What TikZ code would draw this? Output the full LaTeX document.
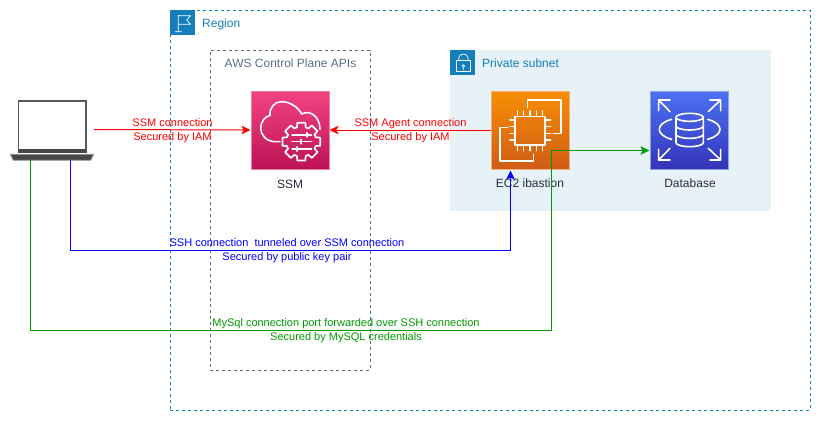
\documentclass[tikz,border=0pt]{standalone}
\usepackage{fontspec}
\setmainfont{Liberation Sans}
\usetikzlibrary{arrows.meta,calc}
\definecolor{regionblue}{HTML}{147EBA}
\definecolor{ctrlgray}{HTML}{5A6C86}
\definecolor{subnetfill}{HTML}{E6F2F8}
\definecolor{inktext}{HTML}{232F3E}
\definecolor{linkred}{HTML}{FF0000}
\definecolor{linkblue}{HTML}{0000FF}
\definecolor{linkgreen}{HTML}{009900}
\definecolor{ssmtop}{HTML}{F34482}
\definecolor{ssmbot}{HTML}{BC1356}
\definecolor{ssmedge}{HTML}{E87FA8}
\definecolor{ectop}{HTML}{F78E04}
\definecolor{ecbot}{HTML}{D05C17}
\definecolor{ecedge}{HTML}{F0B27A}
\definecolor{dbtop}{HTML}{4D72F3}
\definecolor{dbbot}{HTML}{3334B9}
\definecolor{dbedge}{HTML}{8FA4E8}
\tikzset{
  flow/.style={line width=1pt,-{Stealth[length=9pt,width=8.5pt,inset=2pt]}},
  flowlabel/.style={font=\fontsize{11}{14}\selectfont,align=center,inner sep=0pt},
  icon/.style={minimum size=78pt,inner sep=0pt,line width=1pt,anchor=north west},
  glyph/.style={draw=white,line width=1.6pt,line join=round,line cap=round},
  thinglyph/.style={draw=white,line width=.7pt,line join=round},
  badge/.style={minimum size=25pt,inner sep=0pt,fill=regionblue,anchor=north west},
  caption/.style={font=\fontsize{12}{14}\selectfont,text=inktext,inner sep=0pt},
  grouptitle/.style={font=\fontsize{12}{14}\selectfont,inner sep=0pt,anchor=west},
  groupline/.style={dash pattern=on 3pt off 3pt,line width=1pt,inner sep=0pt,anchor=north west},
}
\begin{document}
\begin{tikzpicture}[x=1pt,y=-1pt]
\useasboundingbox (1.5,1.5) rectangle (822.5,422.5);
% groups
\node[draw=regionblue,groupline,minimum width=640pt,minimum height=400pt] (region) at (171,11) {};
\node[fill=subnetfill,minimum width=321pt,minimum height=161pt,inner sep=0pt,anchor=north west] (subnet) at (451.5,51.5) {};
\node[draw=ctrlgray,groupline,minimum width=160pt,minimum height=320pt] (ctrl) at (211,51) {};
\node[badge] (flagbox) at (171.5,11.5) {};
\node[badge] (lockbox) at (451.5,51.5) {};
\node[grouptitle,text=regionblue] (regiontitle) at (203.5,26) {Region};
\node[grouptitle,text=regionblue] (subnettitle) at (483.5,65) {Private subnet};
\node[grouptitle,text=ctrlgray,anchor=center] (ctrltitle) at (292,65) {AWS Control Plane APIs};
% flag glyph
\begin{scope}[shift={(161.5,1.5)},x=.3333pt,y=-.3333pt]
\draw[thinglyph] (45,95)--(65,95) (55,95)--(55,45) (55,47)--(92,47)--(80,60)--(92,73)--(55,73);
\end{scope}
% lock glyph
\begin{scope}[shift={(441.5,41.5)},x=.3333pt,y=-.3333pt]
\draw[thinglyph] (50,62) rectangle (90,95);
\draw[thinglyph] (56,62)--(56,54) arc[start angle=180,end angle=0,x radius=14,y radius=-12]--(84,62);
\draw[thinglyph] (70,78) circle[radius=4] (70,82)--(70,90);
\end{scope}
% laptop
\begin{scope}[shift={(1.5,91.5)},x=.3333pt,y=-.3333pt]
\path[fill=white] (53,31) rectangle (260,190);
\draw[draw=black!65,line width=1.3pt] (55,33) rectangle (258,188);
\fill[black!72] (55,178) rectangle (258,190);
\draw[fill=black!72,draw=black!40,line width=.8pt] (31,193)--(281,193)--(272,211)--(40,211)--cycle;
\end{scope}
\coordinate (lapright) at (95.5,131);
\coordinate (lapblue) at (72,161.5);
\coordinate (lapgreen) at (32,161.5);
% services
\node[icon,draw=ssmedge,top color=ssmtop,bottom color=ssmbot] (ssm) at (252,92) {};
\node[icon,draw=ecedge,top color=ectop,bottom color=ecbot] (ec2) at (492,92) {};
\node[icon,draw=dbedge,top color=dbtop,bottom color=dbbot] (db) at (651,92) {};
\node[caption] (ssmcap) at (291.5,185.5) {SSM};
\node[caption] (ec2cap) at (531.5,185) {EC2 ibastion};
\node[caption] (dbcap) at (691.5,185) {Database};
% SSM glyph
\begin{scope}[shift={(161.5,1.5)},x=.3333pt,y=-.3333pt]
\draw[glyph] (360,425) -- (345,425) .. controls (320,425) and (302,405) .. (302,385)
  .. controls (302,365) and (315,350) .. (330,346)
  .. controls (328,322) and (345,305) .. (365,305)
  .. controls (390,305) and (415,322) .. (425,342)
  .. controls (450,328) and (480,350) .. (480,388);
\begin{scope}[shift={(424,425)}]
\draw[glyph,line width=1.7pt] (-12:58) foreach \a in {0,45,...,315}{ -- ({\a-12}:58) -- ({\a+12}:58) -- ({\a+17}:45) -- ({\a+28}:45) -- ({\a+33}:58)} -- cycle;
\end{scope}
\draw[glyph,line width=1.4pt] (396,405)--(455,405) (396,425)--(455,425) (396,447)--(455,447);
\draw[glyph,line width=2pt] (440,399)--(440,411) (424,419)--(424,431) (410,441)--(410,453);
\end{scope}
% EC2 glyph
\begin{scope}[shift={(481.5,86.5)},x=.3333pt,y=-.3333pt]
\draw[glyph] (143,68)--(143,45)--(243,45)--(243,145)--(220,145);
\draw[glyph] (83,128)--(60,128)--(60,228)--(160,228)--(160,208);
\draw[glyph] (105,95) rectangle (195,180);
\foreach \p in {112,130,150,170,188}{\draw[glyph] (\p,78)--(\p,95) (\p,180)--(\p,197);}
\foreach \p in {105,125,145,165}{\draw[glyph] (90,\p)--(105,\p) (195,\p)--(212,\p);}
\end{scope}
% Database glyph
\begin{scope}[shift={(441.5,41.5)},x=.3333pt,y=-.3333pt]
\draw[glyph] (690,215)--(656,180) (656,212)--(656,180)--(690,180);
\draw[glyph] (805,215)--(842,180) (810,180)--(842,180)--(842,212);
\draw[glyph] (690,325)--(656,360) (656,328)--(656,360)--(690,360);
\draw[glyph] (805,325)--(842,360) (810,360)--(842,360)--(842,328);
\draw[glyph] (695,238) .. controls (670,245) and (658,256) .. (658,268) .. controls (658,280) and (670,291) .. (695,298);
\draw[glyph] (803,238) .. controls (828,245) and (840,256) .. (840,268) .. controls (840,280) and (828,291) .. (803,298);
\draw[glyph] (749,232) circle[x radius=41,y radius=12];
\draw[glyph] (708,232)--(708,308) arc[start angle=180,end angle=360,x radius=41,y radius=-12]--(790,232);
\draw[glyph] (708,258) arc[start angle=180,end angle=360,x radius=41,y radius=-12];
\draw[glyph] (708,283) arc[start angle=180,end angle=360,x radius=41,y radius=-12];
\end{scope}
% connectors
\draw[flow,linkred] (lapright) -- (ssm.west);
\node[flowlabel,text=linkred] (lab1) at (174,132.5) {SSM connection\\Secured by IAM};
\draw[flow,linkred] (ec2.west) -- (ssm.east);
\node[flowlabel,text=linkred] (lab2) at (412,132.5) {SSM Agent connection\\Secured by IAM};
\draw[flow,linkblue] (lapblue) |- ($(ec2.south west)+(20,81)$) -- ($(ec2.south west)+(20,1)$);
\node[flowlabel,text=linkblue] (lab3) at (288.5,252.5) {SSH connection\ \ tunneled over SSM connection\\Secured by public key pair};
\draw[flow,linkgreen] (lapgreen) |- ($(ec2.south east)+(-18,161)$) -- ($(ec2.south east)+(-18,-19)$) -- ($(db.south west)+(0,-19)$);
\node[flowlabel,text=linkgreen] (lab4) at (347.5,332.5) {MySql connection port forwarded over SSH connection\\Secured by MySQL credentials};
\end{tikzpicture}
\end{document}
